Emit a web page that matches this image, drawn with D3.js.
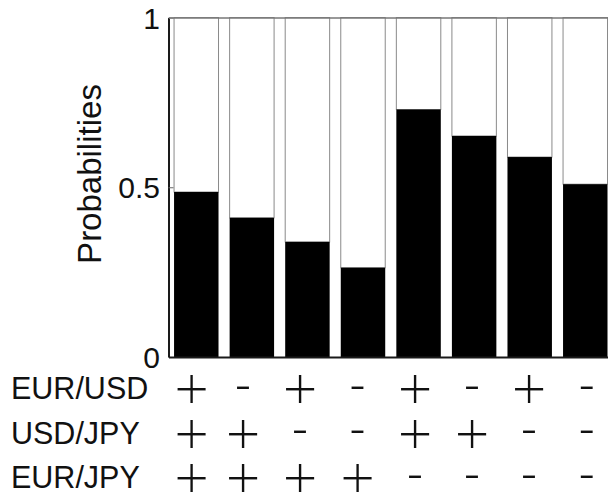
<!DOCTYPE html>
<html><head><meta charset="utf-8">
<script src="https://cdn.jsdelivr.net/npm/d3@7"></script>
<style>html,body{margin:0;padding:0;background:#fff;overflow:hidden}</style>
</head><body><svg id="chart" width="608" height="496"></svg>
<script>
// ---- data ----
const categories = ["c1","c2","c3","c4","c5","c6","c7","c8"];
const probabilities = [0.486, 0.410, 0.339, 0.263, 0.729, 0.651, 0.589, 0.509];
const yTicks = [0, 0.5, 1];
const yTickLabels = ["0", "0.5", "1"];
const yLabel = "Probabilities";
const pairNames = ["EUR/USD", "USD/JPY", "EUR/JPY"];
const eurUsdSigns = ["+","-","+","-","+","-","+","-"];
const usdJpySigns = ["+","+","-","-","+","+","-","-"];
const eurJpySigns = ["+","+","+","+","-","-","-","-"];
const signRows = [eurUsdSigns, usdJpySigns, eurJpySigns];

// ---- layout ----
const plotLeft = 168.5, plotTop = 17.5, plotBottom = 357, bandStep = 55.57;
const font = "'Liberation Sans', Arial, sans-serif";
const signColX = [191.5, 243, 300, 357.5, 415, 472, 529, 586.7];
const signStyle = {"+": {size: 62, dy: "0.352em"}, "-": {size: 57, dy: "0.27em"}};

const svg = d3.select("#chart");
const x = d3.scaleBand().domain(categories)
  .range([plotLeft, plotLeft + bandStep * categories.length])
  .paddingInner(0.2).paddingOuter(0.1);
const y = d3.scaleLinear().domain([0, 1]).range([plotBottom, plotTop]);
const rowY = d3.scalePoint().domain(pairNames).range([387.5, 476.5]);
const colX = d3.scaleOrdinal().domain(categories).range(signColX);

// bars: white remainder with gray outline, black probability
const g = svg.append("g");
g.selectAll("rect.rest").data(categories).join("rect")
  .attr("class","rest")
  .attr("x", d => x(d)).attr("width", x.bandwidth())
  .attr("y", y(1))
  .attr("height", (d,i) => y(probabilities[i]) - y(1))
  .attr("fill", "#fff").attr("stroke", "#8a8a8a").attr("stroke-width", 1);
g.selectAll("rect.prob").data(categories).join("rect")
  .attr("class","prob")
  .attr("x", d => x(d)).attr("width", x.bandwidth())
  .attr("y", (d,i) => y(probabilities[i]))
  .attr("height", (d,i) => y(0) - y(probabilities[i]))
  .attr("fill", "#000");

// axes
const yAxis = d3.axisLeft(y).tickValues(yTicks)
  .tickFormat((d,i) => yTickLabels[i])
  .tickSizeInner(-5).tickSizeOuter(0).tickPadding(8.5);
const ya = svg.append("g").attr("transform", `translate(${plotLeft},0)`).call(yAxis);
ya.select(".domain").attr("stroke", "#1a1a1a").attr("stroke-width", 2);
ya.selectAll(".tick line").attr("stroke", "#666");
ya.selectAll(".tick text").attr("font-family", font).attr("font-size", 30)
  .attr("fill", "#111").attr("dy", "0.35em");

const topAxis = d3.axisTop(x).tickValues([]).tickSizeOuter(0);
const ta = svg.append("g").attr("transform", `translate(0,${plotTop})`).call(topAxis);
ta.select(".domain").attr("stroke", "#777").attr("stroke-width", 1.5);

const xAxis = d3.axisBottom(x).tickValues([]).tickSizeOuter(0);
const xa = svg.append("g").attr("transform", `translate(0,${plotBottom})`).call(xAxis);
xa.select(".domain").attr("stroke", "#1a1a1a").attr("stroke-width", 2);

// y label
svg.append("text")
  .attr("transform", `translate(100.5,174) rotate(-90)`)
  .attr("text-anchor", "middle")
  .attr("font-family", font).attr("font-size", 33).attr("fill", "#111")
  .text(yLabel);

// sign table
const lab = svg.append("g");
lab.selectAll("text.pair").data(pairNames).join("text")
  .attr("class", "pair")
  .attr("x", 11).attr("y", d => rowY(d)).attr("dy", "0.39em")
  .attr("font-family", font).attr("font-size", 30.5).attr("fill", "#111")
  .text(d => d);

pairNames.forEach((p, r) => {
  lab.selectAll(`text.sign${r}`).data(signRows[r]).join("text")
    .attr("class", `sign${r}`)
    .attr("x", (d,i) => colX(categories[i]))
    .attr("y", rowY(p))
    .attr("dy", d => signStyle[d].dy)
    .attr("text-anchor", "middle")
    .attr("font-family", font)
    .attr("font-size", d => signStyle[d].size)
    .attr("fill", "#111")
    .attr("stroke", "#fff").attr("stroke-width", 2)
    .text(d => d);
});
</script>
</body></html>
